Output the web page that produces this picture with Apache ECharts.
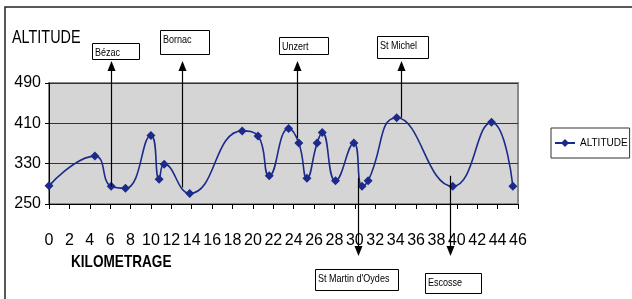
<!DOCTYPE html>
<html><head><meta charset="utf-8">
<script src="https://cdn.jsdelivr.net/npm/echarts@6/dist/echarts.min.js"></script>
<style>html,body{margin:0;padding:0;background:#fff}#c{width:632px;height:299px}</style>
</head><body><div id="c"></div>
<script>
// ---- data ----
const kms       = [0, 4.5, 6.1, 7.5, 10, 10.8, 11.3, 13.8, 18.95, 20.5, 21.6, 23.5, 24.5, 25.3, 26.3, 26.8, 28.1, 29.9, 30.7, 31.3, 34.1, 39.6, 43.4, 45.5];
const altitudes = [286, 345, 285, 281, 386, 299, 329, 271, 395, 385, 306, 400, 371, 301, 371, 392, 296, 371, 285, 296, 421, 285, 412, 285];
const xMin = 0, xMax = 46, xStep = 2;
const yMin = 250, yMax = 490, yStep = 80;
const seriesName = 'ALTITUDE';
const yTitle = 'ALTITUDE';
const xTitle = 'KILOMETRAGE';
const placeNames = ['Bézac', 'Bornac', 'Unzert', 'St Michel', "St Martin d'Oydes", 'Escosse'];
const placeKm    = [6.1, 13, 24.3, 34.5, 30.3, 39.3];
const placeAlt   = [285, 283, 381, 421, 302, 306];

// ---- layout (pixels) ----
const FONT = '"Liberation Sans",Arial,sans-serif';
const boxes = [
  {x: 92,  y: 43,  w: 47, h: 16, dir: 'up'},
  {x: 160, y: 30,  w: 49, h: 24, dir: 'up'},
  {x: 279, y: 37,  w: 49, h: 17, dir: 'up'},
  {x: 377, y: 36,  w: 51, h: 22, dir: 'up'},
  {x: 315, y: 269, w: 83, h: 21, dir: 'down'},
  {x: 425, y: 273, w: 56, h: 20, dir: 'down'}
];
const tipUpY = 61, tipDownY = 256;

const chart = echarts.init(document.getElementById('c'), null, {renderer: 'canvas'});
const lineColor = '#1c2a8a';
chart.setOption({
  animation: false,
  backgroundColor: '#ffffff',
  grid: {left: 49, top: 83, width: 469, height: 121, show: true, backgroundColor: '#d5d5d5',
         borderColor: '#8a8a8a', borderWidth: 2, outerBoundsMode: 'none'},
  xAxis: {type: 'value', min: xMin, max: xMax, interval: xStep,
    axisLine: {show: true, onZero: false, lineStyle: {color: '#000', width: 1}},
    axisTick: {show: true, inside: false, length: 5, lineStyle: {color: '#000'}},
    splitLine: {show: false},
    axisLabel: {color: '#000', fontFamily: FONT, fontSize: 16, margin: 29, showMinLabel: true, showMaxLabel: true, hideOverlap: false}},
  yAxis: {type: 'value', min: yMin, max: yMax, interval: yStep,
    axisLine: {show: true, lineStyle: {color: '#000', width: 1}},
    axisTick: {show: true, inside: false, length: 4, lineStyle: {color: '#000'}},
    splitLine: {show: true, lineStyle: {color: '#333', width: 1}},
    axisLabel: {color: '#000', fontFamily: FONT, fontSize: 16, margin: 8}},
  legend: {show: true, left: 551, top: 128, orient: 'vertical', data: [seriesName],
    borderColor: '#333', borderWidth: 1, borderRadius: 0, padding: [10, 2, 10, 3],
    itemWidth: 20, itemHeight: 10, itemGap: 0,
    textStyle: {color: '#000', fontFamily: FONT, fontSize: 10}},
  series: [{
    name: seriesName, type: 'line', smooth: 0.5,
    data: kms.map((k, i) => [k, altitudes[i]]),
    symbol: 'diamond', symbolSize: 9,
    lineStyle: {color: lineColor, width: 1.6},
    itemStyle: {color: lineColor},
    clip: false
  }]
});

function buildGraphics() {
  const g = [];
  // chart area border
  g.push({type: 'rect', shape: {x: 5, y: 7, width: 700, height: 400}, style: {fill: 'none', stroke: '#222', lineWidth: 1.5}, z: 1, silent: true});
  g.push({type: 'text', x: 12, y: 29, scaleX: 0.8, style: {text: yTitle, fill: '#000', font: '18px ' + FONT, verticalAlign: 'top'}, z: 5});
  g.push({type: 'text', x: 71, y: 254, scaleX: 0.8, style: {text: xTitle, fill: '#000', font: 'bold 17px ' + FONT, verticalAlign: 'top'}, z: 5});
  placeNames.forEach((name, i) => {
    const b = boxes[i];
    const p = chart.convertToPixel({gridIndex: 0}, [placeKm[i], placeAlt[i]]);
    const x = Math.round(p[0]) + 0.5;
    g.push({type: 'rect', shape: {x: b.x + 0.5, y: b.y + 0.5, width: b.w, height: b.h},
      style: {fill: '#fff', stroke: '#000', lineWidth: 1}, z: 6});
    g.push({type: 'text', x: b.x + 3, y: b.y + 4, scaleX: 0.82, style: {text: name, fill: '#000', font: '11px ' + FONT, verticalAlign: 'top'}, z: 7});
    if (b.dir === 'up') {
      g.push({type: 'line', shape: {x1: x, y1: p[1], x2: x, y2: tipUpY + 8}, style: {stroke: '#000', lineWidth: 1.2}, z: 8});
      g.push({type: 'polygon', shape: {points: [[x, tipUpY], [x - 4, tipUpY + 10], [x + 4, tipUpY + 10]]}, style: {fill: '#000'}, z: 8});
    } else {
      g.push({type: 'line', shape: {x1: x, y1: p[1], x2: x, y2: tipDownY - 8}, style: {stroke: '#000', lineWidth: 1.2}, z: 8});
      g.push({type: 'polygon', shape: {points: [[x, tipDownY], [x - 4, tipDownY - 10], [x + 4, tipDownY - 10]]}, style: {fill: '#000'}, z: 8});
    }
  });
  return g;
}
chart.setOption({graphic: buildGraphics()});
</script></body></html>
